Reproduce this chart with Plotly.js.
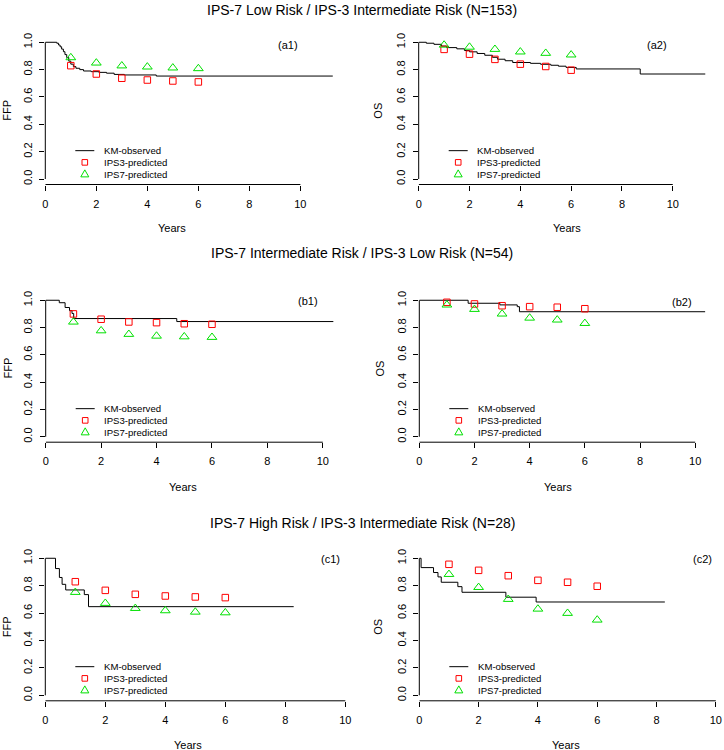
<!DOCTYPE html>
<html><head><meta charset="utf-8">
<script src="https://cdn.plot.ly/plotly-3.0.1.min.js"></script>
<style>html,body{margin:0;padding:0;background:#fff}</style>
</head><body><div id="chart" style="width:724px;height:750px"></div>
<script>
// ---------------- DATA ----------------
const years = [1, 2, 3, 4, 5, 6];
const rowTitles = [
  "IPS-7 Low Risk / IPS-3 Intermediate Risk (N=153)",
  "IPS-7 Intermediate Risk / IPS-3 Low Risk (N=54)",
  "IPS-7 High Risk / IPS-3 Intermediate Risk (N=28)"
];
const panelTags = ["(a1)", "(a2)", "(b1)", "(b2)", "(c1)", "(c2)"];
const yLabels = ["FFP", "OS", "FFP", "OS", "FFP", "OS"];
const xLabel = "Years";
const legendLabels = ["KM-observed", "IPS3-predicted", "IPS7-predicted"];
const xTickVals = [0, 2, 4, 6, 8, 10];
const yTickVals = [0, 0.2, 0.4, 0.6, 0.8, 1.0];

// Kaplan-Meier observed (step curves)
const a1KmTime = [0, 0.45, 0.52, 0.58, 0.64, 0.71, 0.77, 0.84, 0.92, 1.0, 1.1, 1.2, 1.35, 1.5, 1.8, 2.1, 2.4, 2.7, 3.1, 4.35, 11.27];
const a1KmSurv = [1.0, 0.993, 0.98, 0.967, 0.95, 0.931, 0.91, 0.888, 0.862, 0.84, 0.822, 0.81, 0.80, 0.79, 0.785, 0.78, 0.774, 0.765, 0.761, 0.753, 0.753];
const a2KmTime = [0, 0.3, 0.6, 0.9, 1.1, 1.5, 1.8, 2.0, 2.3, 2.6, 2.9, 3.1, 3.4, 3.7, 4.4, 4.8, 5.2, 5.5, 5.8, 6.2, 8.72, 11.28];
const a2KmSurv = [1.0, 0.993, 0.985, 0.972, 0.961, 0.952, 0.94, 0.93, 0.918, 0.905, 0.89, 0.876, 0.865, 0.852, 0.846, 0.839, 0.832, 0.825, 0.816, 0.805, 0.768, 0.768];
const b1KmTime = [0, 0.49, 0.70, 0.86, 0.95, 1.01, 4.73, 10.38];
const b1KmSurv = [1.0, 0.982, 0.947, 0.924, 0.903, 0.866, 0.844, 0.844];
const b2KmTime = [0, 1.77, 2.92, 3.55, 3.63, 10.36];
const b2KmSurv = [1.0, 0.978, 0.966, 0.953, 0.916, 0.916];
const c1KmTime = [0, 0.34, 0.47, 0.56, 0.68, 1.3, 1.44, 8.28];
const c1KmSurv = [1.0, 0.925, 0.86, 0.81, 0.769, 0.735, 0.647, 0.647];
const c2KmTime = [0, 0.06, 0.48, 0.63, 0.74, 1.30, 1.44, 2.92, 3.94, 8.28];
const c2KmSurv = [1.0, 0.932, 0.896, 0.864, 0.825, 0.793, 0.752, 0.716, 0.681, 0.681];

// Predicted values at years 1..6
const a1Ips3 = [0.829, 0.768, 0.737, 0.724, 0.717, 0.710];
const a1Ips7 = [0.888, 0.849, 0.828, 0.820, 0.813, 0.808];
const a2Ips3 = [0.948, 0.913, 0.875, 0.840, 0.823, 0.796];
const a2Ips7 = [0.980, 0.965, 0.949, 0.930, 0.920, 0.908];
const b1Ips3 = [0.900, 0.861, 0.841, 0.836, 0.828, 0.824];
const b1Ips7 = [0.841, 0.777, 0.751, 0.738, 0.733, 0.729];
const b2Ips3 = [0.985, 0.973, 0.960, 0.953, 0.949, 0.938];
const b2Ips7 = [0.966, 0.934, 0.900, 0.870, 0.856, 0.831];
const c1Ips3 = [0.829, 0.766, 0.737, 0.725, 0.718, 0.713];
const c1Ips7 = [0.752, 0.672, 0.635, 0.618, 0.608, 0.603];
const c2Ips3 = [0.956, 0.912, 0.873, 0.839, 0.825, 0.796];
const c2Ips7 = [0.883, 0.788, 0.701, 0.630, 0.599, 0.550];

const kmTimes = [a1KmTime, a2KmTime, b1KmTime, b2KmTime, c1KmTime, c2KmTime];
const kmSurvs = [a1KmSurv, a2KmSurv, b1KmSurv, b2KmSurv, c1KmSurv, c2KmSurv];
const ips3 = [a1Ips3, a2Ips3, b1Ips3, b2Ips3, c1Ips3, c2Ips3];
const ips7 = [a1Ips7, a2Ips7, b1Ips7, b2Ips7, c1Ips7, c2Ips7];

// ---------------- LAYOUT GEOMETRY (pixels) ----------------
const W = 724, H = 750;
const fx = p => p / W;
const fy = p => 1 - p / H;
const FONT = "Liberation Sans, Arial, sans-serif";
const RED = "#FF0000", GREEN = "#00E000";

const geom = [
  {left: 45.3, right: 344.0, top: 36.8, bottom: 184.5, xmax: 11.71, tagX: 288, tagY: 45, ylabX: 7, xlabX: 172, xlabY: 228},
  {left: 418.7, right: 716.7, top: 36.8, bottom: 184.5, xmax: 11.73, tagX: 657, tagY: 45, ylabX: 378, xlabX: 567, xlabY: 228},
  {left: 45.7, right: 344.7, top: 294.8, bottom: 442.2, xmax: 10.79, tagX: 308, tagY: 301, ylabX: 7, xlabX: 183, xlabY: 487},
  {left: 419.3, right: 717.0, top: 294.8, bottom: 442.2, xmax: 10.79, tagX: 682, tagY: 302, ylabX: 379, xlabX: 558, xlabY: 487},
  {left: 45.3, right: 348.3, top: 552.8, bottom: 700.8, xmax: 10.1, tagX: 330, tagY: 559, ylabX: 6.5, xlabX: 188, xlabY: 745},
  {left: 419.3, right: 718.8, top: 552.8, bottom: 700.8, xmax: 10.1, tagX: 702, tagY: 559, ylabX: 378, xlabX: 566, xlabY: 745}
];
const titleY = [10, 253, 523];

const traces = [];
const layout = {
  width: W, height: H,
  margin: {l: 0, r: 0, t: 0, b: 0},
  paper_bgcolor: "#fff", plot_bgcolor: "rgba(0,0,0,0)",
  showlegend: false,
  font: {family: FONT, color: "#000"},
  shapes: [], annotations: []
};

geom.forEach((g, i) => {
  const n = i === 0 ? "" : String(i + 1);
  const xa = "x" + n, ya = "y" + n;
  traces.push({
    x: kmTimes[i], y: kmSurvs[i], xaxis: xa, yaxis: ya,
    type: "scatter", mode: "lines", line: {color: "#000", width: 1, shape: "hv"},
    name: legendLabels[0], hoverinfo: "x+y"
  });
  traces.push({
    x: years, y: ips3[i], xaxis: xa, yaxis: ya,
    type: "scatter", mode: "markers",
    marker: {symbol: "square-open", size: 6.5, color: RED, line: {width: 1, color: RED}},
    name: legendLabels[1]
  });
  traces.push({
    x: years, y: ips7[i], xaxis: xa, yaxis: ya,
    type: "scatter", mode: "markers",
    marker: {symbol: "triangle-up-open", size: 8.5, color: GREEN, line: {width: 1, color: GREEN}},
    name: legendLabels[2]
  });

  const yTop = g.top + 0.04 / 1.08 * (g.bottom - g.top);
  const yZero = g.bottom - 0.04 / 1.08 * (g.bottom - g.top);
  layout["xaxis" + n] = {
    domain: [fx(g.left), fx(g.right)], range: [0, g.xmax], anchor: ya,
    tickvals: xTickVals, ticktext: xTickVals.map(String),
    ticks: "outside", ticklen: 5, tickwidth: 1, tickcolor: "#000",
    showline: false, showgrid: false, zeroline: false,
    ticklabelstandoff: 4,
    tickfont: {family: FONT, size: 11, color: "#000"}, fixedrange: true
  };
  layout["yaxis" + n] = {
    domain: [fy(g.bottom), fy(g.top)], range: [-0.04, 1.04], anchor: xa,
    tickvals: yTickVals, tickformat: ".1f", tickangle: -90,
    ticks: "outside", ticklen: 5, tickwidth: 1, tickcolor: "#000",
    showline: false, showgrid: false, zeroline: false,
    ticklabelstandoff: 3,
    tickfont: {family: FONT, size: 11, color: "#000"}, fixedrange: true
  };
  // R-style axis lines spanning first..last tick
  layout.shapes.push({type: "line", xref: xa, yref: ya + " domain", x0: 0, x1: 10, y0: 0, y1: 0, line: {color: "#000", width: 1}});
  layout.shapes.push({type: "line", xref: xa + " domain", yref: ya, x0: 0, x1: 0, y0: 0, y1: 1, line: {color: "#000", width: 1}});

  // panel tag
  layout.annotations.push({text: panelTags[i], xref: "paper", yref: "paper", x: fx(g.tagX), y: fy(g.tagY),
    xanchor: "center", yanchor: "middle", showarrow: false, font: {family: FONT, size: 11, color: "#000"}});
  // y label
  layout.annotations.push({text: yLabels[i], xref: "paper", yref: "paper", x: fx(g.ylabX), y: fy((g.top + g.bottom) / 2),
    textangle: -90, xanchor: "center", yanchor: "middle", showarrow: false, font: {family: FONT, size: 11, color: "#000"}});
  // x label
  layout.annotations.push({text: xLabel, xref: "paper", yref: "paper", x: fx(g.xlabX), y: fy(g.xlabY),
    xanchor: "center", yanchor: "middle", showarrow: false, font: {family: FONT, size: 11, color: "#000"}});

  // manual R-style legend
  const ly0 = yTop + 108.4, dy = 11.7;
  const lx0 = g.left + 30, lx1 = g.left + 49, mx = g.left + 39.5, tx = g.left + 56.5;
  layout.shapes.push({type: "line", xref: "paper", yref: "paper", x0: fx(lx0), x1: fx(lx1), y0: fy(ly0), y1: fy(ly0), line: {color: "#000", width: 1}});
  const sq = 2.8;
  layout.shapes.push({type: "rect", xref: "paper", yref: "paper", x0: fx(mx - sq), x1: fx(mx + sq), y0: fy(ly0 + dy - sq), y1: fy(ly0 + dy + sq), line: {color: RED, width: 1}});
  const ty = ly0 + 2 * dy;
  layout.shapes.push({type: "path", xref: "paper", yref: "paper",
    path: `M ${fx(mx)} ${fy(ty - 4.2)} L ${fx(mx - 4)} ${fy(ty + 2.8)} L ${fx(mx + 4)} ${fy(ty + 2.8)} Z`,
    line: {color: GREEN, width: 1}});
  legendLabels.forEach((lab, k) => {
    layout.annotations.push({text: lab, xref: "paper", yref: "paper", x: fx(tx), y: fy(ly0 + k * dy),
      xanchor: "left", yanchor: "middle", showarrow: false, font: {family: FONT, size: 9.6, color: "#000"}});
  });
});

rowTitles.forEach((t, r) => {
  layout.annotations.push({text: t, xref: "paper", yref: "paper", x: 0.5, y: fy(titleY[r]),
    xanchor: "center", yanchor: "middle", showarrow: false, font: {family: FONT, size: 14, color: "#000"}});
});

Plotly.newPlot("chart", traces, layout, {staticPlot: true, displayModeBar: false});
</script>
</body></html>
